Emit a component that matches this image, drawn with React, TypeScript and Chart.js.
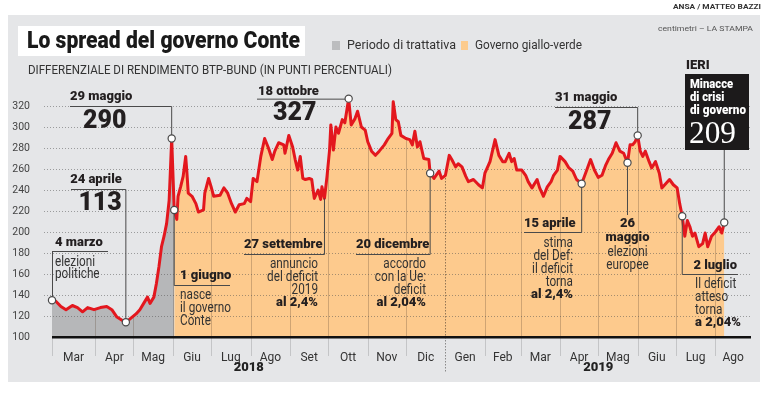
import React, { useEffect, useRef } from 'react';
import { Chart, registerables } from 'chart.js';
Chart.register(...registerables);

// x = days since 1 March 2018
const days = [-3,0,4,8,13,17,21,25,30,35,40,44,48,52,55,59,63,66,69,72,74,77,79,81,83,85,87,89,90,91,93,95,96,98,100,102,103,104,107,110,112,116,117,120,122,124,129,132,135,138,141,144,148,150,153,155,158,161,164,167,170,172,175,179,180,183,186,188,190,192,194,196,199,201,203,206,208,209,211,213,215,216,218,220,222,225,227,230,232,235,237,240,243,245,248,251,254,258,261,264,265,267,269,271,275,278,280,282,284,286,289,293,294,297,301,303,306,309,311,314,316,319,322,324,328,332,335,337,341,345,348,351,353,356,358,360,362,366,369,371,374,378,380,383,386,389,391,394,396,400,403,406,409,413,417,420,423,426,429,432,434,437,440,443,446,449,451,453,455,457,459,461,463,466,468,471,474,476,479,482,485,488,490,492,494,496,498,500,502,505,508,510,512,515,518,521,523,525];
const spread = [135,134,129,126,130,128,124,128,126,128,129,126,119,116,114,118,122,126,132,138,132,138,151,167,186,196,208,230,259,289,221,212,234,243,253,272,256,237,234,227,219,221,237,251,243,234,235,242,237,227,219,226,227,232,229,251,248,272,289,280,269,277,285,283,275,292,281,269,259,272,251,250,251,250,232,240,231,243,232,253,278,302,278,300,294,307,304,327,302,308,315,300,297,286,277,273,277,283,289,294,324,307,305,292,289,288,283,296,281,286,270,269,256,251,258,251,254,273,269,262,265,262,253,248,250,245,242,256,267,288,273,267,267,275,267,270,259,259,254,248,242,250,242,234,243,248,254,259,272,267,261,258,250,246,259,269,259,252,254,264,269,275,285,277,275,266,283,283,286,292,277,272,277,267,261,267,256,242,246,250,245,242,227,215,196,211,205,196,199,186,189,199,186,196,200,205,199,209];

const governmentStartDay = 93; // 1 giugno 2018
const monthStarts = [0,31,61,92,122,153,184,214,245,275,306,337,365,396,426,457,487,518];
const monthLabels = ['Mar','Apr','Mag','Giu','Lug','Ago','Set','Ott','Nov','Dic','Gen','Feb','Mar','Apr','Mag','Giu','Lug','Ago'];
const yearLabels = ['2018','2019'];
const yearStarts = [-3, 306];
const xMin = -3;
const xMax = 546;
const yTicks = [100,120,140,160,180,200,220,240,260,280,300,320];

const SANS = "Roboto, 'Liberation Sans', sans-serif";
const INK = '#231f20';
const SQUEEZE = 0.84;

const valAt = (d: number) => spread[days.indexOf(d)];

const monthMids = monthStarts.map((s, i) => {
  const a = i === 0 ? xMin : s;
  const b = i + 1 < monthStarts.length ? monthStarts[i + 1] : xMax;
  return (a + b) / 2;
});

function txt(ctx: CanvasRenderingContext2D, s: string, x: number, y: number, font: string, align: CanvasTextAlign = 'left', color = INK, opts: { maxW?: number; sx?: number } = {}) {
  ctx.save();
  ctx.font = font;
  ctx.fillStyle = color;
  ctx.textAlign = align;
  ctx.textBaseline = 'middle';
  let sx = opts.sx ?? 1;
  if (opts.maxW) {
    const w = ctx.measureText(s).width;
    sx = opts.maxW / w;
  }
  ctx.translate(x, y);
  ctx.scale(sx, 1);
  ctx.fillText(s, 0, 0);
  ctx.restore();
}

function seg(ctx: CanvasRenderingContext2D, x1: number, y1: number, x2: number, y2: number) {
  ctx.beginPath();
  ctx.moveTo(x1, y1);
  ctx.lineTo(x2, y2);
  ctx.stroke();
}

const frame = {
  id: 'frame',
  beforeDraw(chart: any) {
    const ctx = chart.ctx as CanvasRenderingContext2D;
    ctx.save();
    ctx.fillStyle = '#ffffff';
    ctx.fillRect(0, 0, chart.width, chart.height);
    ctx.fillStyle = '#e5e6e8';
    ctx.fillRect(8, 15, 752, 367);
    ctx.fillStyle = '#ffffff';
    ctx.fillRect(18, 26, 287, 30);
    txt(ctx, 'Lo spread del governo Conte', 27, 42, `900 23px ${SANS}`, 'left', '#1a1a1a', { maxW: 273 });
    ctx.fillStyle = '#bcbdbf';
    ctx.fillRect(332, 41, 8, 9);
    txt(ctx, 'Periodo di trattativa', 347, 46, `13px ${SANS}`, 'left', '#333', { maxW: 109 });
    ctx.fillStyle = '#fccb8d';
    ctx.fillRect(461, 41, 7, 9);
    txt(ctx, 'Governo giallo-verde', 475, 46, `13px ${SANS}`, 'left', '#333', { maxW: 107 });
    txt(ctx, 'DIFFERENZIALE DI RENDIMENTO BTP-BUND (IN PUNTI PERCENTUALI)', 28, 71, `13.5px ${SANS}`, 'left', '#333', { maxW: 364 });
    txt(ctx, 'ANSA / MATTEO BAZZI', 761, 7, `bold 8px ${SANS}`, 'right', '#333', { maxW: 88 });
    txt(ctx, 'centimetri – LA STAMPA', 753, 29, `8px ${SANS}`, 'right', '#555', { maxW: 95 });
    ctx.restore();
  },
  beforeDatasetDraw(chart: any, args: any) {
    if (args.index !== 0) return;
    const ctx = chart.ctx as CanvasRenderingContext2D;
    const { chartArea } = chart;
    const x = chart.scales.x, y = chart.scales.y;
    const meta = chart.getDatasetMeta(0);
    const pts = meta.data;
    ctx.save();
    ctx.beginPath();
    pts.forEach((p: any, i: number) => (i ? ctx.lineTo(p.x, p.y) : ctx.moveTo(p.x, p.y)));
    ctx.lineTo(pts[pts.length - 1].x, chartArea.bottom);
    ctx.lineTo(pts[0].x, chartArea.bottom);
    ctx.closePath();
    ctx.clip();
    ctx.lineWidth = 1;
    monthStarts.forEach((m) => {
      if (m === 0) return;
      const xx = Math.round(x.getPixelForValue(m)) + 0.5;
      if (m === yearStarts[1]) {
        ctx.setLineDash([1.5, 1.5]);
        ctx.strokeStyle = 'rgba(60,50,40,0.55)';
      } else {
        ctx.setLineDash([]);
        ctx.strokeStyle = 'rgba(90,70,50,0.28)';
      }
      seg(ctx, xx, chartArea.top, xx, chartArea.bottom);
    });
    ctx.restore();
    ctx.save();
    ctx.setLineDash([1, 2]);
    ctx.lineWidth = 1;
    ctx.strokeStyle = 'rgba(80,80,80,0.5)';
    yTicks.forEach((v) => {
      if (v === 100) return;
      const yy = Math.round(y.getPixelForValue(v)) + 0.5;
      seg(ctx, 44, yy, 752, yy);
    });
    ctx.restore();
  },
  afterDatasetsDraw(chart: any) {
    const ctx = chart.ctx as CanvasRenderingContext2D;
    const { chartArea } = chart;
    const x = chart.scales.x, y = chart.scales.y;
    const bottom = chartArea.bottom;
    ctx.save();
    ctx.lineWidth = 1;
    [xMin, ...monthStarts.slice(1)].forEach((m) => {
      const xx = Math.round(x.getPixelForValue(m)) + 0.5;
      if (m === yearStarts[1]) {
        ctx.setLineDash([1.5, 1.5]);
        ctx.strokeStyle = '#8a8a8a';
        seg(ctx, xx, bottom, xx, bottom + 35);
      } else {
        ctx.setLineDash([]);
        ctx.strokeStyle = '#c4c5c7';
        seg(ctx, xx, bottom, xx, bottom + 19);
      }
    });
    ctx.setLineDash([]);
    ctx.fillStyle = '#111';
    ctx.fillRect(chartArea.left, bottom - 1, chartArea.right - chartArea.left, 2.5);
    yearLabels.forEach((lab, i) => {
      const a = yearStarts[i];
      const b = i + 1 < yearStarts.length ? yearStarts[i + 1] : xMax;
      txt(ctx, lab, x.getPixelForValue((a + b) / 2), bottom + 31, `900 13px ${SANS}`, 'center', '#222');
    });

    const P = (d: number) => ({ x: x.getPixelForValue(d), y: y.getPixelForValue(valAt(d)) });
    const B = `900 13px ${SANS}`;
    const R = `14px ${SANS}`;
    const RS = { sx: SQUEEZE };
    const BIG = `900 25px ${SANS}`;
    const TXT2 = '#333';
    ctx.strokeStyle = '#4a4a4a';
    ctx.lineWidth = 1;
    const circles: { x: number; y: number }[] = [];

    // 4 marzo
    let p = P(-3);
    seg(ctx, p.x + 0.5, 251.5, p.x + 0.5, p.y);
    seg(ctx, p.x, 251.5, 108, 251.5);
    txt(ctx, '4 marzo', 55, 243, B);
    txt(ctx, 'elezioni', 55, 262, R, 'left', TXT2, RS);
    txt(ctx, 'politiche', 55, 274, R, 'left', TXT2, RS);
    circles.push(p);

    // 24 aprile
    p = P(55);
    seg(ctx, p.x, 189.5, p.x, p.y);
    seg(ctx, 71, 189.5, p.x, 189.5);
    txt(ctx, '24 aprile', p.x - 4, 180, B, 'right');
    txt(ctx, '113', p.x - 4, 204, BIG, 'right');
    circles.push(p);

    // 29 maggio
    p = P(91);
    seg(ctx, 70, 106.5, p.x, 106.5);
    seg(ctx, p.x, 106.5, p.x, p.y);
    txt(ctx, '29 maggio', 70, 97, B);
    txt(ctx, '290', 83, 122, BIG);
    circles.push(p);

    // 1 giugno
    p = P(governmentStartDay);
    seg(ctx, p.x, p.y, p.x, 285.5);
    seg(ctx, p.x, 285.5, 230, 285.5);
    txt(ctx, '1 giugno', 180, 276, B);
    txt(ctx, 'nasce', 180, 295, R, 'left', TXT2, RS);
    txt(ctx, 'il governo', 180, 308, R, 'left', TXT2, RS);
    txt(ctx, 'Conte', 180, 321, R, 'left', TXT2, RS);
    circles.push(p);

    // 18 ottobre
    p = P(230);
    seg(ctx, 257, p.y + 0.5, p.x, p.y + 0.5);
    txt(ctx, '18 ottobre', 258, 92, B);
    txt(ctx, '327', 273, 114, BIG);
    circles.push(p);

    // 27 settembre
    p = P(211);
    seg(ctx, p.x, p.y, p.x, 254.5);
    seg(ctx, 244, 254.5, p.x, 254.5);
    txt(ctx, '27 settembre', 244, 245, B);
    txt(ctx, 'annuncio', 318, 264, R, 'right', TXT2, RS);
    txt(ctx, 'del deficit', 318, 277, R, 'right', TXT2, RS);
    txt(ctx, '2019', 318, 290, R, 'right', TXT2, RS);
    txt(ctx, 'al 2,4%', 318, 303, B, 'right');

    // 20 dicembre
    p = P(294);
    seg(ctx, p.x, p.y, p.x, 254.5);
    seg(ctx, 356, 254.5, p.x, 254.5);
    txt(ctx, '20 dicembre', 356, 245, B);
    txt(ctx, 'accordo', 426, 264, R, 'right', TXT2, RS);
    txt(ctx, 'con la Ue:', 426, 277, R, 'right', TXT2, RS);
    txt(ctx, 'deficit', 426, 290, R, 'right', TXT2, RS);
    txt(ctx, 'al 2,04%', 426, 303, B, 'right');
    circles.push(p);

    // 31 maggio
    p = P(457);
    seg(ctx, 555, 107.5, p.x, 107.5);
    seg(ctx, p.x, 107.5, p.x, p.y);
    txt(ctx, '31 maggio', 555, 98, B);
    txt(ctx, '287', 568, 123, BIG);
    circles.push(p);

    // 15 aprile
    p = P(413);
    seg(ctx, p.x, p.y, p.x, 232.5);
    seg(ctx, 524, 232.5, p.x, 232.5);
    txt(ctx, '15 aprile', 524, 224, B);
    txt(ctx, 'stima', 573, 243, R, 'right', TXT2, RS);
    txt(ctx, 'del Def:', 573, 256, R, 'right', TXT2, RS);
    txt(ctx, 'il deficit', 573, 269, R, 'right', TXT2, RS);
    txt(ctx, 'torna', 573, 282, R, 'right', TXT2, RS);
    txt(ctx, 'al 2,4%', 573, 295, B, 'right');
    circles.push(p);

    // 26 maggio
    p = P(449);
    seg(ctx, p.x, p.y, p.x, 215);
    txt(ctx, '26', p.x, 224, B, 'center');
    txt(ctx, 'maggio', p.x, 238, B, 'center');
    txt(ctx, 'elezioni', p.x, 252, R, 'center', TXT2, RS);
    txt(ctx, 'europee', p.x, 265, R, 'center', TXT2, RS);
    circles.push(p);

    // 2 luglio
    p = P(492);
    seg(ctx, p.x, p.y, p.x, 274.5);
    seg(ctx, p.x, 274.5, 738, 274.5);
    txt(ctx, '2 luglio', 737, 266, B, 'right');
    txt(ctx, 'Il deficit', 695, 284, R, 'left', TXT2, RS);
    txt(ctx, 'atteso', 695, 297, R, 'left', TXT2, RS);
    txt(ctx, 'torna', 695, 310, R, 'left', TXT2, RS);
    txt(ctx, 'a 2,04%', 695, 323, B);
    circles.push(p);

    // IERI
    p = P(525);
    txt(ctx, 'IERI', 686, 66, B);
    ctx.fillStyle = '#1c1a1b';
    ctx.fillRect(685, 74, 64, 76);
    txt(ctx, 'Minacce', 690, 85, `900 12.5px ${SANS}`, 'left', '#fff', { sx: 0.9 });
    txt(ctx, 'di crisi', 690, 98, `900 12.5px ${SANS}`, 'left', '#fff', { sx: 0.9 });
    txt(ctx, 'di governo', 690, 111, `900 12.5px ${SANS}`, 'left', '#fff', { maxW: 56 });
    txt(ctx, '209', 689, 135, `32px 'Liberation Serif', serif`, 'left', '#fff', { maxW: 47 });
    seg(ctx, p.x, 150, p.x, p.y);
    circles.push(p);

    circles.forEach((c) => {
      ctx.beginPath();
      ctx.arc(c.x, c.y, 3.6, 0, Math.PI * 2);
      ctx.fillStyle = '#fff';
      ctx.fill();
      ctx.strokeStyle = '#4a4a4a';
      ctx.lineWidth = 1.2;
      ctx.stroke();
    });
    ctx.restore();
  },
};

export default function App() {
  const ref = useRef<HTMLCanvasElement>(null);
  useEffect(() => {
    if (!ref.current) return;
    const all = days.map((d, i) => ({ x: d, y: spread[i] }));
    const grey = all.filter((p) => p.x <= governmentStartDay);
    const orange = all.filter((p) => p.x >= governmentStartDay);
    const chart = new Chart(ref.current, {
      type: 'line',
      data: {
        datasets: [
          { data: all, borderColor: '#e3171e', borderWidth: 3, pointRadius: 0, fill: false, tension: 0, borderJoinStyle: 'round', borderCapStyle: 'round' } as any,
          { data: grey, borderWidth: 0, borderColor: 'rgba(0,0,0,0)', pointRadius: 0, fill: 'start', backgroundColor: '#b6b7b9', tension: 0 } as any,
          { data: orange, borderWidth: 0, borderColor: 'rgba(0,0,0,0)', pointRadius: 0, fill: 'start', backgroundColor: '#fdca8d', tension: 0 } as any,
        ],
      },
      options: {
        animation: false,
        responsive: false,
        devicePixelRatio: 1,
        layout: { padding: { left: 0, right: 15, top: 85, bottom: 0 } },
        plugins: { legend: { display: false }, tooltip: { enabled: false } },
        scales: {
          x: {
            type: 'linear',
            min: xMin,
            max: xMax,
            grid: { display: false },
            border: { display: false },
            afterBuildTicks: (axis: any) => {
              axis.ticks = monthMids.map((v) => ({ value: v }));
            },
            afterFit: (s: any) => {
              s.height = 62;
            },
            ticks: {
              autoSkip: false,
              maxRotation: 0,
              padding: 6,
              color: '#333',
              font: { family: SANS, size: 12 },
              callback: (_v: any, i: number) => monthLabels[i],
            },
          },
          y: {
            type: 'linear',
            min: 100,
            max: 340,
            grid: { display: false },
            border: { display: false },
            afterFit: (s: any) => {
              s.width = 52;
            },
            afterBuildTicks: (axis: any) => {
              axis.ticks = yTicks.map((v) => ({ value: v }));
            },
            ticks: {
              padding: 14,
              color: '#444',
              font: { family: SANS, size: 10.5 },
              callback: (v: any) => String(v),
            },
          },
        },
      },
      plugins: [frame],
    });
    return () => chart.destroy();
  }, []);
  return (
    <div style={{ position: 'absolute', left: 0, top: 0, width: 766, height: 399 }}>
      <canvas ref={ref} width={766} height={399} style={{ display: 'block', width: 766, height: 399 }} />
    </div>
  );
}
